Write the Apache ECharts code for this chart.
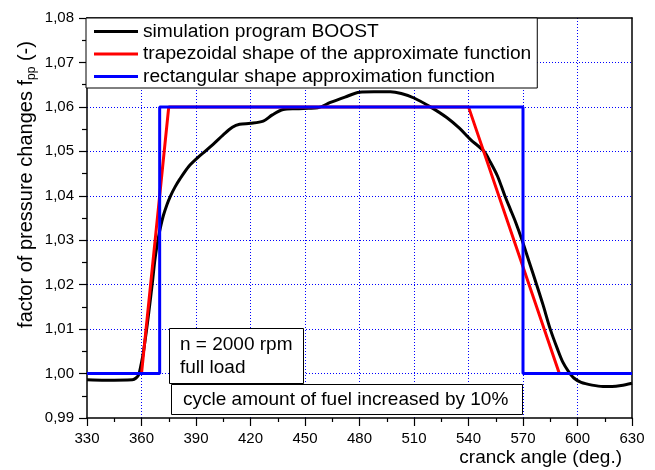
<!DOCTYPE html>
<html><head><meta charset="utf-8">
<script src="https://cdn.jsdelivr.net/npm/echarts@6/dist/echarts.min.js"></script>
<style>html,body{margin:0;padding:0;background:#fff}#c{width:655px;height:470px}</style>
</head><body><div id="c"></div>
<script>
const seriesNames = ['simulation program BOOST','trapezoidal shape of the approximate function','rectangular shape approximation function'];
const boostData = [
 [330,0.9986],[340,0.9985],[355,0.9986],[357,0.9990],[358.5,0.9998],[360,1.0025],[361,1.0047],
 [362.5,1.0090],[364,1.0137],[366,1.0205],[367.5,1.0260],[369.5,1.0310],[370.5,1.0330],[372,1.0355],
 [374,1.0380],[376,1.0400],[378.5,1.0420],[381,1.0437],[386,1.0466],[391,1.0486],[395,1.0500],
 [400,1.0518],[405,1.0537],[410,1.0554],[414,1.0561],[420,1.0563],[427,1.0568],[432,1.0582],
 [438,1.0594],[445,1.0596],[452,1.0597],[457,1.0598],[464,1.0610],[472,1.0622],[480,1.0633],
 [488,1.0634],[497,1.0634],[503,1.0630],[510,1.0620],[519,1.0600],[528,1.0576],[535,1.0552],
 [541,1.0527],[548.5,1.0500],[552,1.0476],[556,1.0444],[560,1.0400],[563,1.0370],[566,1.0340],
 [569.5,1.0300],[573.5,1.0250],[577.5,1.0200],[581,1.0155],[585,1.0100],[589,1.0055],[592,1.0025],
 [595,1.0005],[598,0.9990],[602,0.9980],[608,0.9974],[614,0.9971],[619,0.9971],[624,0.9973],[630,0.9978]
];
const trapezoidData = [[330,1.00],[360,1.00],[375,1.06],[540,1.06],[590,1.00],[630,1.00]];
const rectangleData = [[330,1.00],[370,1.00],[370,1.06],[570,1.06],[570,1.00],[630,1.00]];
const xTicks = {min:330,max:630,interval:30};
const yTicks = {min:0.99,max:1.08,interval:0.01};
const annotation1 = ['n = 2000 rpm','full load'];
const annotation2 = 'cycle amount of fuel increased by 10%';
const xName = 'cranck angle (deg.)';
const yName = 'factor of pressure changes f{sub|pp} (-)';

const font = 'Liberation Sans, Arial, sans-serif';
const chart = echarts.init(document.getElementById('c'), null, {renderer:'canvas'});
const split = {show:true, showMinLine:false, showMaxLine:false, lineStyle:{color:'#0000ff', type:[1,2], width:1}};
chart.setOption({
  animation:false,
  backgroundColor:'#fff',
  grid:{left:87,right:23,top:18,bottom:52,show:false},
  legend:{
    orient:'vertical', left:86, top:18, data:seriesNames,
    icon:'rect', itemWidth:44, itemHeight:3, itemGap:3.5,
    padding:[4,6,2,8], borderColor:'#000', borderWidth:1, backgroundColor:'#fff',
    textStyle:{fontFamily:font, fontSize:19.2, color:'#000'}, z:10
  },
  xAxis:[{
    type:'value', min:xTicks.min, max:xTicks.max, interval:xTicks.interval,
    axisLine:{show:true, onZero:false, lineStyle:{color:'#000', width:1.5}},
    axisTick:{show:true, length:8, lineStyle:{color:'#000', width:1.2}},
    minorTick:{show:true, splitNumber:2, length:4, lineStyle:{color:'#000', width:1.2}},
    axisLabel:{fontFamily:font, fontSize:15, color:'#000', margin:13},
    splitLine:split
  },{
    type:'value', position:'top', min:xTicks.min, max:xTicks.max, interval:xTicks.interval,
    axisLine:{show:true, onZero:false, lineStyle:{color:'#000', width:1.5}},
    axisTick:{show:false}, axisLabel:{show:false}, splitLine:{show:false}
  }],
  yAxis:[{
    type:'value', min:yTicks.min, max:yTicks.max, interval:yTicks.interval,
    axisLine:{show:true, onZero:false, lineStyle:{color:'#000', width:1.5}},
    axisTick:{show:true, length:8, lineStyle:{color:'#000', width:1.2}},
    minorTick:{show:true, splitNumber:2, length:5, lineStyle:{color:'#000', width:1.2}},
    axisLabel:{fontFamily:font, fontSize:15, color:'#000', margin:13,
      formatter:v=>v.toFixed(2).replace('.',',')},
    splitLine:split
  },{
    type:'value', position:'right', min:yTicks.min, max:yTicks.max, interval:yTicks.interval,
    axisLine:{show:true, onZero:false, lineStyle:{color:'#000', width:1.5}},
    axisTick:{show:false}, axisLabel:{show:false}, splitLine:{show:false}
  }],
  series:[
    {name:seriesNames[0], type:'line', data:boostData, showSymbol:false, smooth:0.3,
      lineStyle:{color:'#000', width:3}, itemStyle:{color:'#000'}, z:2},
    {name:seriesNames[1], type:'line', data:trapezoidData, showSymbol:false,
      lineStyle:{color:'#ff0000', width:3}, itemStyle:{color:'#ff0000'}, z:3},
    {name:seriesNames[2], type:'line', data:rectangleData, showSymbol:false,
      lineStyle:{color:'#0000ff', width:3}, itemStyle:{color:'#0000ff'}, z:4}
  ],
  graphic:[
    {type:'rect', z:20, shape:{x:169.5,y:328.5,width:134,height:55}, style:{fill:'#fff', stroke:'#000', lineWidth:1}},
    {type:'text', z:21, x:180, y:345, style:{text:annotation1[0], font:'19px '+font, fill:'#000', verticalAlign:'middle'}},
    {type:'text', z:21, x:180, y:368, style:{text:annotation1[1], font:'19px '+font, fill:'#000', verticalAlign:'middle'}},
    {type:'rect', z:20, shape:{x:171.5,y:384.5,width:351,height:30}, style:{fill:'#fff', stroke:'#000', lineWidth:1}},
    {type:'text', z:21, x:183, y:399.5, style:{text:annotation2, font:'19px '+font, fill:'#000', verticalAlign:'middle'}},
    {type:'text', z:21, x:622, y:458, style:{text:xName, font:'19px '+font, fill:'#000', align:'right', verticalAlign:'middle'}},
    {type:'text', z:21, x:26, y:184.5, rotation:Math.PI/2,
      style:{text:yName, fontFamily:font, fontSize:20, fill:'#000', align:'center', verticalAlign:'middle', lineHeight:24,
        rich:{sub:{fontFamily:font, fontSize:12, fill:'#000', verticalAlign:'bottom', lineHeight:12, padding:[9,0,0,0]}}}}
  ]
});
</script></body></html>
